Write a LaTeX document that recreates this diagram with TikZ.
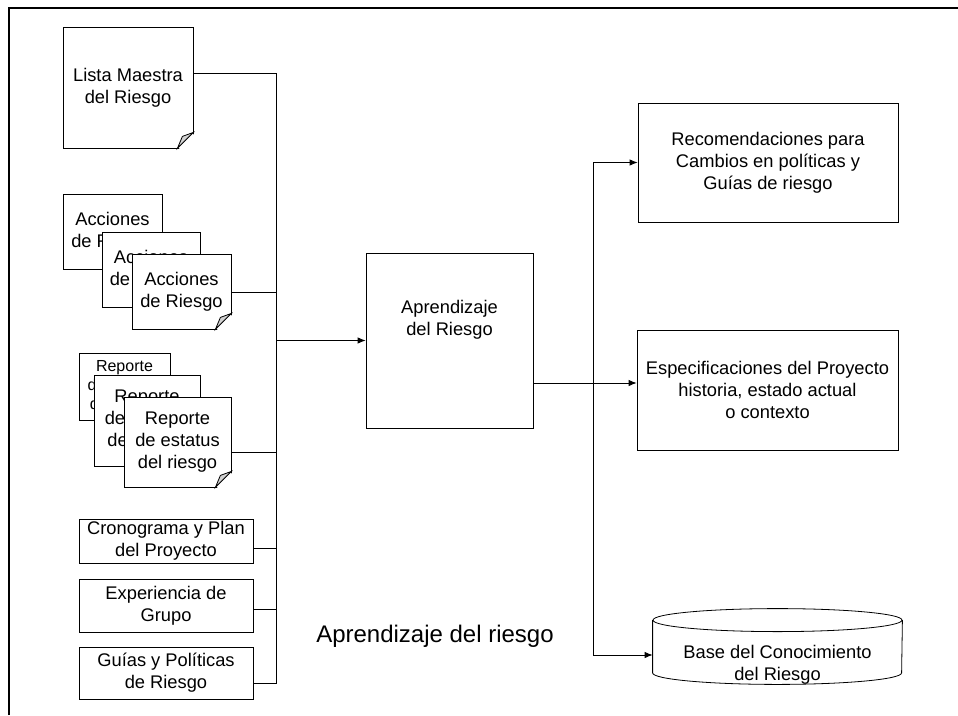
\documentclass[tikz,border=0pt]{standalone}
\usepackage{fontspec}
\setmainfont{Liberation Sans}
\usetikzlibrary{arrows.meta}

\begin{document}
\begin{tikzpicture}[x=1pt,y=-1pt,line width=0.8pt,font=\fontsize{18.3}{22}\selectfont]
    \tikzset{box/.style={shape=rectangle,draw,fill=white,align=center,inner sep=2pt}}
    \tikzset{edge/.style={->,>={Latex[length=8pt,width=6.5pt]}}}
    \tikzset{small/.style={font=\fontsize{16}{19}\selectfont}}
    \useasboundingbox (0,0) rectangle (958,715);
    \draw[line width=2pt] (9,715) -- (9,8) -- (958,8);

    % inputs
    \node[box,minimum width=130pt,minimum height=121pt] (lista) at (128,87.5) {Lista Maestra\\del Riesgo};
    \node[box,minimum width=99pt,minimum height=75pt] (acc1) at (112.5,231.5) {Acciones\\de Riesgo};
    \node[box,minimum width=98pt,minimum height=75pt] (acc2) at (151,269.5) {Acciones\\de Riesgo};
    \node[box,minimum width=99pt,minimum height=75pt] (acc3) at (181.5,291.5) {Acciones\\de Riesgo};
    \node[box,small,minimum width=91pt,minimum height=67pt] (rep1) at (124.5,386.5) {Reporte\\de estatus\\del riesgo};
    \node[box,minimum width=106pt,minimum height=91pt] (rep2) at (147,420.5) {Reporte\\de estatus\\del riesgo};
    \node[box,minimum width=107pt,minimum height=90pt] (rep3) at (177.5,442) {Reporte\\de estatus\\del riesgo};
    \node[box,minimum width=174pt,minimum height=44pt] (crono) at (166,541) {Cronograma y Plan\\del Proyecto};
    \node[box,minimum width=174pt,minimum height=53pt] (exper) at (166,605.5) {Experiencia de\\Grupo};
    \node[box,minimum width=174pt,minimum height=52pt] (guias) at (166,673) {Guías y Políticas\\de Riesgo};

    % folded corners
    \foreach \d in {lista,acc3,rep3} {
        \fill[white] ([xshift=1pt,yshift=-1pt]\d.south east) -- ([xshift=-15pt,yshift=-1pt]\d.south east) -- ([xshift=1pt,yshift=15pt]\d.south east) -- cycle;
        \filldraw[fill=gray!35] ([xshift=-16pt]\d.south east) -- ([yshift=16pt]\d.south east) -- ([xshift=-11pt,yshift=12pt]\d.south east) -- cycle;
    }

    % process and outputs
    \node[box,minimum width=167pt,minimum height=175pt,label={[align=center,yshift=20.5pt]center:Aprendizaje\\del Riesgo}] (apr) at (449.5,340.5) {};
    \node[box,minimum width=260pt,minimum height=119pt] (rec) at (768,162.5) {Recomendaciones para\\Cambios en políticas y\\Guías de riesgo};
    \node[box,minimum width=261pt,minimum height=120pt] (esp) at (767.5,390) {Especificaciones del Proyecto\\historia, estado actual\\o contexto};
    \node[minimum width=249pt,minimum height=75pt,label={[align=center,yshift=-18pt]center:Base del Conocimiento\\del Riesgo}] (kb) at (777.5,646.5) {};
    \draw ([yshift=-11.5pt]kb.north) ellipse [x radius=124.5pt, y radius=11.5pt];
    \draw ([yshift=-11.5pt]kb.north west) -- ([yshift=11.5pt]kb.south west)
        arc [start angle=180, end angle=360, x radius=124.5pt, y radius=11.5pt] -- ([yshift=-11.5pt]kb.north east);
    \node[font=\fontsize{24}{28}\selectfont] (title) at (435,636) {Aprendizaje del riesgo};

    % connectors
    \coordinate (bustop) at (276,73);
    \coordinate (busbot) at (276,683);
    \draw (lista.east |- bustop) -- (bustop) -- (busbot) -- (guias.east |- busbot);
    \foreach \n/\y in {acc3/292,rep3/452,crono/548,exper/609}
        \draw (\n.east |- 0,\y) -- (bustop |- 0,\y);
    \draw[edge] (bustop |- apr.west) -- (apr.west);

    \coordinate (split) at (593,383);
    \draw (apr.east |- split) -- (split);
    \draw[edge] (split) -- (esp.west |- split);
    \draw[edge] (split) |- (rec.west);
    \draw[edge] (split) |- ([yshift=-8.5pt]kb.west);
\end{tikzpicture}
\end{document}
